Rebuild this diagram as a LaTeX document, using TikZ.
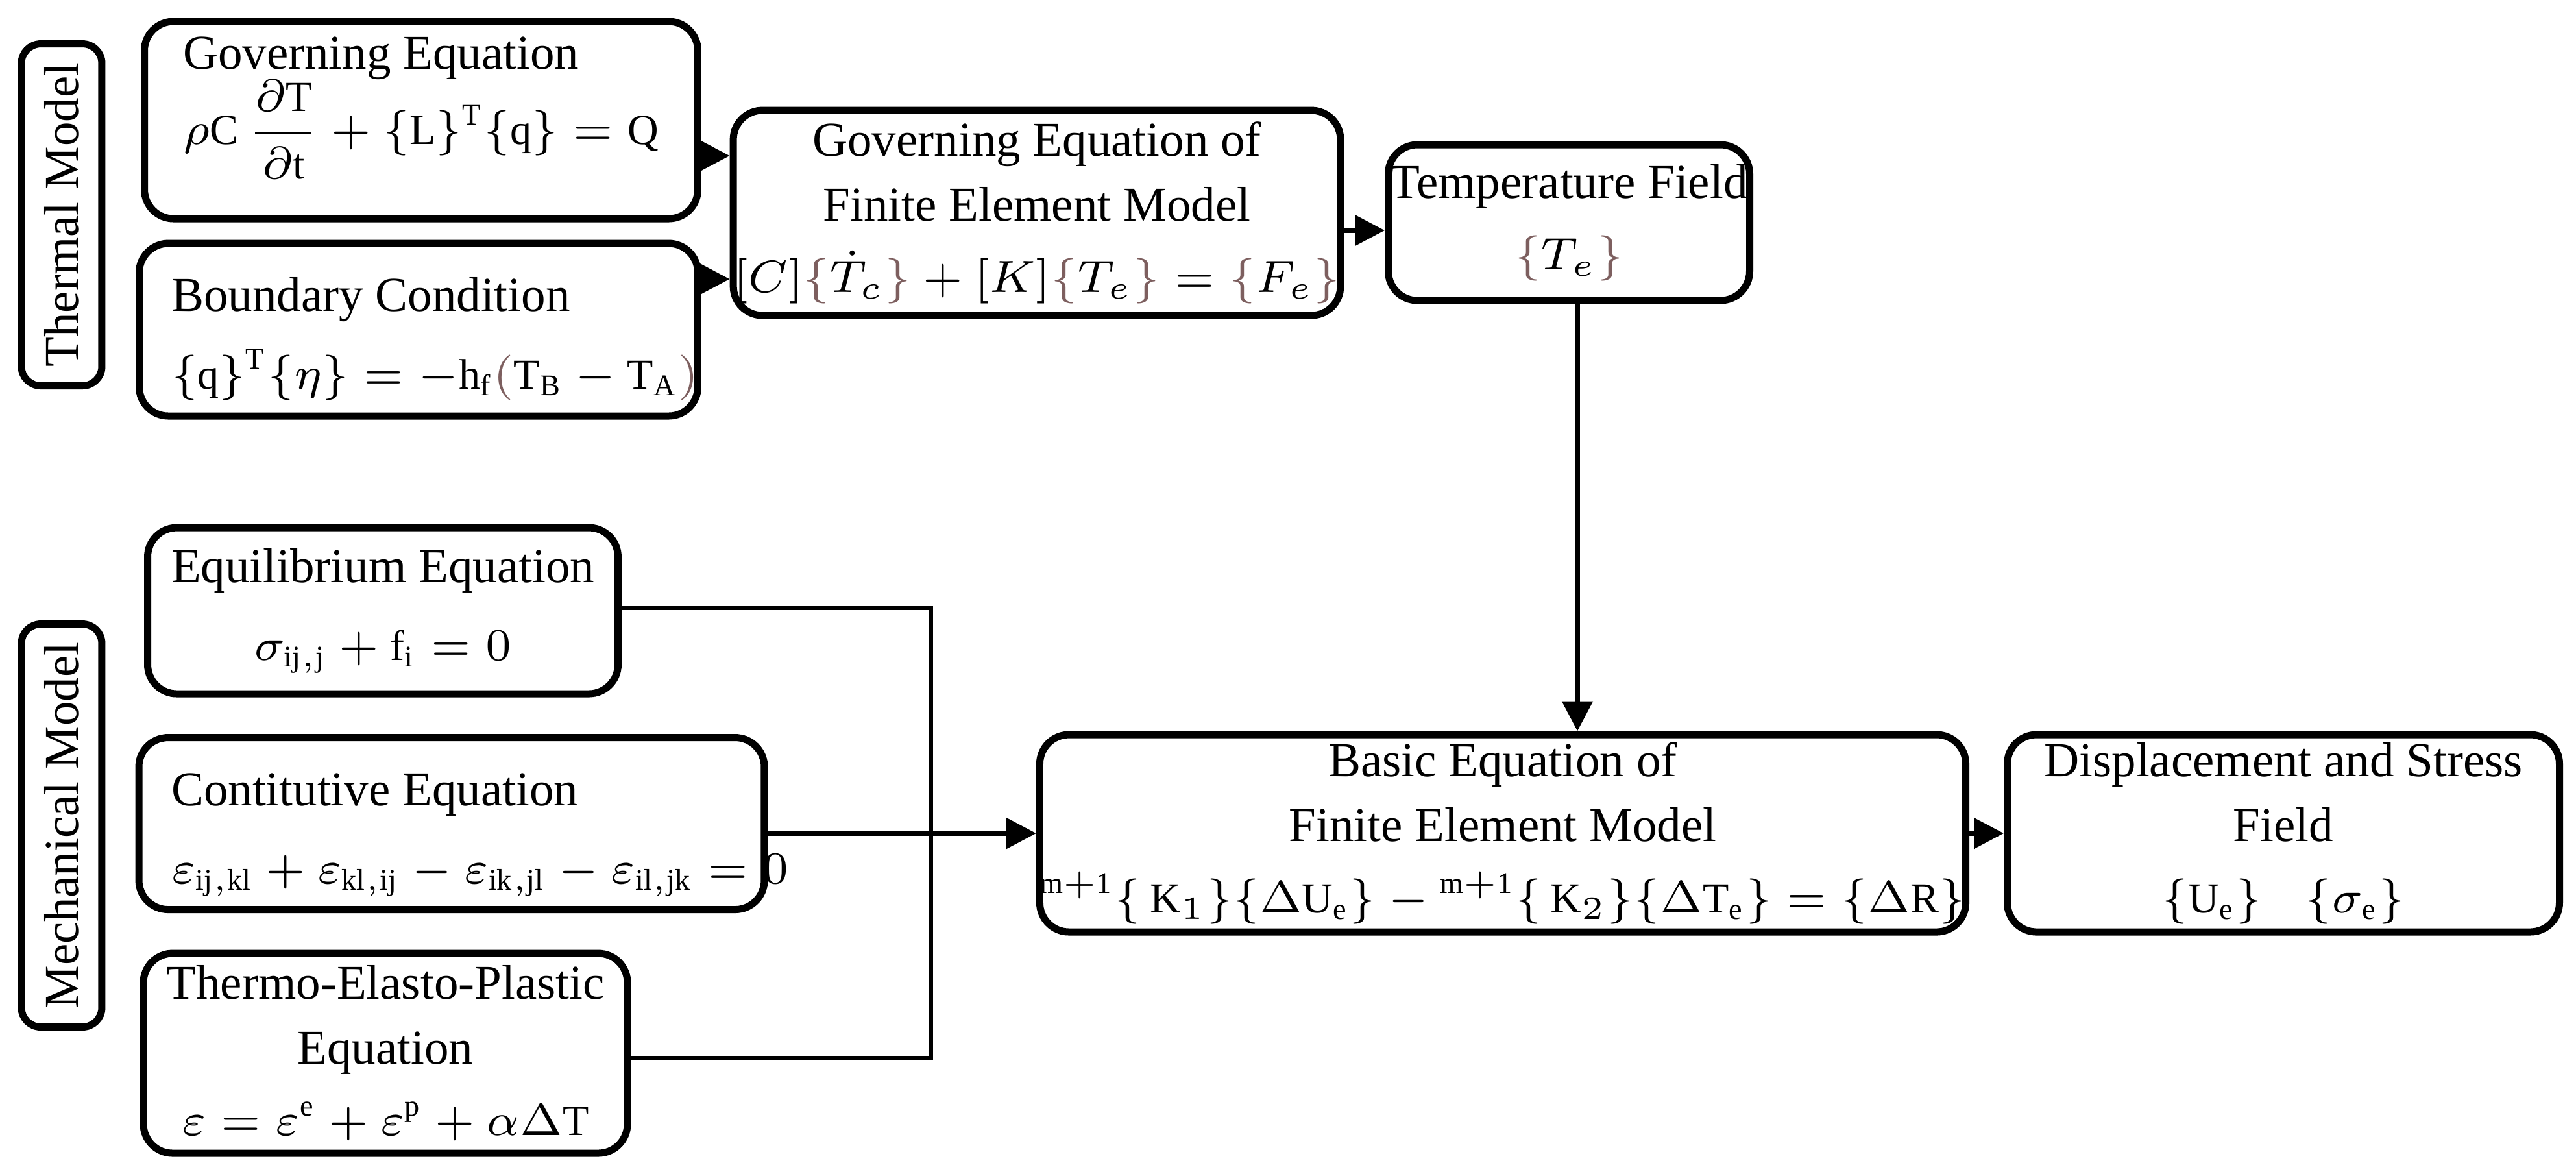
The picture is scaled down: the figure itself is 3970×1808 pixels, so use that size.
\documentclass[tikz,border=0pt]{standalone}
\usepackage{fontspec}
\setmainfont{Liberation Serif}
\usepackage{amsmath}
\usetikzlibrary{arrows.meta}
\definecolor{br}{RGB}{125,95,95}
\tikzset{
  box/.style={draw=black,line width=1.1pt,rounded corners=4.5pt,align=center,inner sep=0pt,font=\fontsize{7.5}{10}\selectfont},
  lab/.style={draw=black,line width=1.1pt,rounded corners=3pt,inner sep=0pt,font=\fontsize{7.5}{9}\selectfont},
  arr/.style={line width=0.8pt,-{Triangle[length=4.6pt,width=4.6pt]}},
  ln/.style={line width=0.6pt},
  txt/.style={font=\fontsize{7.5}{10}\selectfont,align=left,anchor=north west,inner sep=0pt}
}
\newcommand{\rmx}[1]{\mathrm{#1}}
\newcommand{\eqf}{\fontsize{6.6}{9}\selectfont}
\begin{document}
\begin{tikzpicture}[x=0.1pt,y=-0.1pt]
\useasboundingbox (0,0) rectangle (3970,1808);
% labels
\node[lab,minimum width=12.4pt,minimum height=52.7pt] (tl) at (95,331) {\rotatebox{90}{Thermal Model}};
\node[lab,minimum width=12.4pt,minimum height=62.1pt] (ml) at (95,1272) {\rotatebox{90}{Mechanical Model}};
% thermal boxes
\node[box,minimum width=85.3pt,minimum height=30.4pt] (gov) at (649,185) {};
\node[txt] (govt) at (280,55) {Governing Equation\\[-1pt] {\eqf$\rho\rmx{C}\,\dfrac{\partial\rmx{T}}{\partial\rmx{t}}+\{\rmx{L}\}^{\rmx{T}}\{\rmx{q}\}=\rmx{Q}$}};
\node[box,minimum width=86.1pt,minimum height=26.6pt] (bnd) at (645,508) {};
\node[txt] (bndt) at (262,425) {Boundary Condition\\[2pt] {\eqf$\{\rmx{q}\}^{\rmx{T}}\{\eta\}=-\rmx{h}_{\rmx{f}}\textcolor{br}{(}\rmx{T}_{\rmx{B}}-\rmx{T}_{\rmx{A}}\textcolor{br}{)}$}};
\node[box,minimum width=85.6pt,minimum height=31.6pt] (fem) at (1598,328) {Governing Equation of\\ Finite Element Model\\[1pt] {\eqf$[C]\textcolor{br}{\{}\dot T_c\textcolor{br}{\}}+[K]\textcolor{br}{\{}T_e\textcolor{br}{\}}=\textcolor{br}{\{}F_e\textcolor{br}{\}}$}};
\node[box,minimum width=55.7pt,minimum height=24pt] (temp) at (2418,343) {Temperature Field\\[1pt] {\eqf$\textcolor{br}{\{}T_e\textcolor{br}{\}}$}};
% mechanical boxes
\node[box,minimum width=72.5pt,minimum height=25.6pt] (eq) at (590,941) {Equilibrium Equation\\[2pt] {\eqf$\sigma_{\rmx{ij,j}}+\rmx{f}_{\rmx{i}}=0$}};
\node[box,minimum width=96.4pt,minimum height=26.5pt] (con) at (696,1269) {};
\node[txt] (cont) at (262,1190) {Contitutive Equation\\[2pt] {\eqf$\varepsilon_{\rmx{ij,kl}}+\varepsilon_{\rmx{kl,ij}}-\varepsilon_{\rmx{ik,jl}}-\varepsilon_{\rmx{il,jk}}=0$}};
\node[box,minimum width=74.6pt,minimum height=30.8pt] (thermo) at (594,1623) {Thermo-Elasto-Plastic\\ Equation\\[1pt] {\eqf$\varepsilon=\varepsilon^{\rmx{e}}+\varepsilon^{\rmx{p}}+\alpha\Delta\rmx{T}$}};
\node[box,minimum width=136.7pt,minimum height=30.4pt] (basic) at (2316,1284) {Basic Equation of\\ Finite Element Model\\[1pt] {\eqf${}^{\rmx{m+1}}\{\,\rmx{K}_1\}\{\Delta\rmx{U}_{\rmx{e}}\}-{}^{\rmx{m+1}}\{\,\rmx{K}_2\}\{\Delta\rmx{T}_{\rmx{e}}\}=\{\Delta\rmx{R}\}$}};
\node[box,minimum width=85.1pt,minimum height=30.4pt] (disp) at (3519,1284) {Displacement and Stress\\ Field\\[1pt] {\eqf$\{\rmx{U}_{\rmx{e}}\}\quad\{\sigma_{\rmx{e}}\}$}};
% connectors
\coordinate (j) at (1435,1284);
\coordinate (y1) at (0,240);
\coordinate (y2) at (0,430);
\coordinate (y3) at (0,355);
\coordinate (xv) at (2431,0);
\coordinate (y4) at (0,937);
\coordinate (y5) at (0,1630);
\draw[arr] (gov.east|-y1) -- (fem.west|-y1);
\draw[arr] (bnd.east|-y2) -- (fem.west|-y2);
\draw[arr] (fem.east|-y3) -- (temp.west|-y3);
\draw[arr] (temp.south-|xv) -- (basic.north-|xv);
\draw[ln] (eq.east|-y4) -| (j) |- (thermo.east|-y5);
\draw[arr] (con.east|-basic.west) -- (basic.west);
\draw[arr] (basic.east) -- (disp.west);
\end{tikzpicture}
\end{document}
